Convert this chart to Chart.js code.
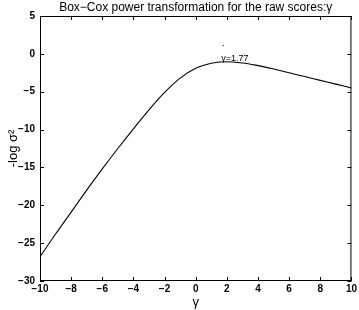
<!DOCTYPE html>
<html>
<head>
<meta charset="utf-8">
<script src="https://cdn.jsdelivr.net/npm/chart.js@4"></script>
<style>
  html, body { margin: 0; padding: 0; background: #fff; }
  #wrap { width: 359px; height: 310px; }
</style>
</head>
<body>
<div id="wrap"><canvas id="bc"></canvas></div>
<script>
// valeurs (gamma -> -log sigma^2)
const gammaValues = [-10, -9, -8, -7, -6, -5, -4, -3, -2, -1, 0, 1, 1.77, 3, 4, 5, 6, 7, 8, 9, 10];
const logSigmaValues = [-26.8, -23.8, -20.9, -18.0, -15.2, -12.5, -9.9, -7.4, -5.1, -3.2, -1.9, -1.25, -1.05, -1.2, -1.55, -2.0, -2.5, -3.0, -3.5, -4.0, -4.5];
const peakGamma = 1.77;
const peakMarkerY = 1.1;
const peakLabel = 'γ=1.77';
const titleText = 'Box\u2212Cox power transformation for the raw scores:γ';
const xTicks = [-10, -8, -6, -4, -2, 0, 2, 4, 6, 8, 10];
const yTicks = [5, 0, -5, -10, -15, -20, -25, -30];

const FONT = '"Liberation Sans Narrow", "Liberation Sans", Arial, sans-serif';

// cadre + graduations vers l'interieur (style matlab), titre centre sur la zone de trace
const boxTicks = {
    id: 'boxTicks',
    afterDraw(chart) {
        const { ctx, chartArea: a, scales } = chart;
        ctx.save();
        ctx.strokeStyle = '#000';
        ctx.lineWidth = 1;
        ctx.strokeRect(a.left + 0.5, a.top + 0.5, a.right - a.left - 1, a.bottom - a.top - 1);
        const len = 4;
        ctx.beginPath();
        xTicks.forEach(v => {
            const px = Math.round(scales.x.getPixelForValue(v)) + 0.5;
            ctx.moveTo(px, a.bottom); ctx.lineTo(px, a.bottom - len);
            ctx.moveTo(px, a.top); ctx.lineTo(px, a.top + len);
        });
        yTicks.forEach(v => {
            const py = Math.round(scales.y.getPixelForValue(v)) + 0.5;
            ctx.moveTo(a.left, py); ctx.lineTo(a.left + len, py);
            ctx.moveTo(a.right, py); ctx.lineTo(a.right - len, py);
        });
        ctx.stroke();

        ctx.fillStyle = '#000';
        ctx.textAlign = 'center';
        ctx.textBaseline = 'middle';
        ctx.font = '12px ' + FONT;
        ctx.fillText(titleText, (a.left + a.right) / 2, 8);

        // etiquette du maximum
        ctx.font = '9px ' + FONT;
        ctx.textBaseline = 'alphabetic';
        ctx.textAlign = 'left';
        ctx.fillText(peakLabel, scales.x.getPixelForValue(peakGamma) - 2, scales.y.getPixelForValue(-0.9));
        ctx.restore();
    }
};

new Chart(document.getElementById('bc'), {
    type: 'scatter',
    data: {
        datasets: [{
            data: gammaValues.map((g, i) => ({ x: g, y: logSigmaValues[i] })),
            showLine: true,
            borderColor: '#000',
            borderWidth: 1.1,
            pointRadius: 0,
            tension: 0.35
        }, {
            data: [{ x: peakGamma, y: peakMarkerY }],
            pointRadius: 0.8,
            backgroundColor: '#555',
            borderWidth: 0
        }]
    },
    options: {
        responsive: true,
        maintainAspectRatio: false,
        animation: false,
        layout: { padding: { left: 0, right: 6, top: 16, bottom: 0 } },
        plugins: {
            legend: { display: false },
            tooltip: { enabled: false },
            title: { display: false }
        },
        scales: {
            x: {
                type: 'linear',
                min: -10,
                max: 10,
                afterBuildTicks: s => { s.ticks = xTicks.map(v => ({ value: v })); },
                afterFit: s => { s.height = 29; },
                grid: { display: false, drawTicks: false },
                border: { display: false },
                ticks: {
                    color: '#000',
                    padding: 2,
                    maxRotation: 0,
                    font: { family: FONT, size: 10, weight: 'bold' },
                    callback: v => String(v).replace('-', '\u2212')
                },
                title: {
                    display: true,
                    text: 'γ',
                    color: '#000',
                    font: { family: FONT, size: 13 },
                    padding: { top: 1, bottom: 0 }
                }
            },
            y: {
                type: 'linear',
                min: -30,
                max: 5,
                afterBuildTicks: s => { s.ticks = yTicks.map(v => ({ value: v })); },
                afterFit: s => { s.width = 40; },
                grid: { display: false, drawTicks: false },
                border: { display: false },
                ticks: {
                    color: '#000',
                    padding: 5,
                    font: { family: FONT, size: 10, weight: 'bold' },
                    callback: v => String(v).replace('-', '\u2212')
                },
                title: {
                    display: true,
                    text: '-log σ²',
                    color: '#000',
                    font: { family: FONT, size: 13 },
                    padding: { top: 6, bottom: 2 }
                }
            }
        }
    },
    plugins: [boxTicks]
});
</script>
</body>
</html>
